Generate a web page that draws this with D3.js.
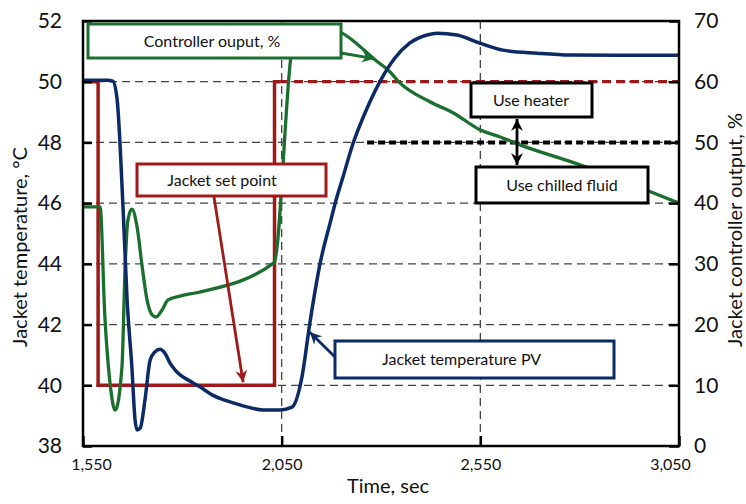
<!DOCTYPE html>
<html><head><meta charset="utf-8">
<script src="https://cdn.jsdelivr.net/npm/d3@7"></script>
<style>
html,body{margin:0;padding:0;background:#fff;}
text{font-family:Lato,"Noto Sans",sans-serif;fill:#111;}
</style></head>
<body><svg id="c" width="746" height="504"></svg>
<script>
// ---- data ----
const xTicks = [1550, 2050, 2550, 3050];
const tempTicks = [38, 40, 42, 44, 46, 48, 50, 52];
const pctTicks = [0, 10, 20, 30, 40, 50, 60, 70];

const pvTime = [1550,1612,1625,1636,1651,1661,1673,1681,1686,1694,1706,1719,1731,1744,1756,1769,1782,1827,1845,1880,1928,1965,2003,2046,2076,2101,2121,2147,2172,2189,2202,2230,2263,2298,2335,2372,2416,2441,2491,2549,2607,2693,2776,2900,3050];
const pvTemp = [50.05,50.05,50.02,49.4,45.77,42.81,40.6,38.86,38.53,38.59,39.52,40.83,41.1,41.19,41.06,40.73,40.5,40.08,39.94,39.65,39.42,39.28,39.19,39.19,39.28,40.27,42.05,44.03,45.35,46.2,46.76,47.98,49.07,50.02,50.78,51.27,51.54,51.6,51.54,51.27,51.04,50.94,50.88,50.87,50.87];

const coTime = [1550,1593,1605,1618,1631,1648,1656,1663,1673,1686,1699,1711,1724,1734,1749,1764,1794,1832,2031,2074,2084,2146,2202,2242,2285,2323,2343,2423,2481,2549,2600,2650,2801,2927,3050];
const coPct = [39.4,39.4,21.3,10.4,5.9,13.0,29.5,37.2,39.0,36.1,29.5,24.1,21.6,21.25,22.4,24.05,24.7,25.2,30.2,64.5,68.0,68.9,68.0,66.1,63.6,61.6,60.1,56.7,54.9,52.1,50.9,49.6,46.3,43.2,40.0];

const spTime = [1550,1588,1588,2032,2032,2046];
const spTemp = [50,50,40,40,50,50];
const spFutureTime = [2046, 3050];
const spFutureTemp = [50, 50];
const switchTime = [2265, 3050];
const switchPct = [50, 50];

// ---- colours ----
const BLUE = "#0c2b66", GREEN = "#1a6e2e", RED = "#9e1a1a";

const svg = d3.select("#c");
const L = 83, R = 679, T = 21, B = 446;
const x = d3.scaleLinear([1550, 3050], [L, R]);
const yT = d3.scaleLinear([38, 52], [B, T]);
const yP = d3.scaleLinear([0, 70], [B, T]);

const defs = svg.append("defs");
function marker(id, color) {
  defs.append("marker").attr("id", id).attr("viewBox", "-12 -6 13 12")
    .attr("refX", 0).attr("refY", 0).attr("markerWidth", 13).attr("markerHeight", 12)
    .attr("markerUnits", "userSpaceOnUse").attr("orient", "auto")
    .append("path").attr("d", "M0,0 L-12,-6 L-8,0 L-12,6 Z").attr("fill", color);
}
marker("mRed", RED); marker("mBlue", BLUE); marker("mGreen", GREEN); marker("mBlack", "#000");

// gridlines
const gridT = [40, 42, 44, 46, 48, 50];
svg.append("g").selectAll("line").data(gridT).join("line")
  .attr("x1", L).attr("x2", R).attr("y1", d => yT(d)).attr("y2", d => yT(d))
  .attr("stroke", "#444").attr("stroke-width", 1.3).attr("stroke-dasharray", "8,5");
svg.append("g").selectAll("line").data([2050, 2550]).join("line")
  .attr("x1", d => x(d)).attr("x2", d => x(d)).attr("y1", T).attr("y2", B)
  .attr("stroke", "#444").attr("stroke-width", 1.3).attr("stroke-dasharray", "8,5");

// heater / chilled switching line (50 %)
svg.append("path").datum(switchTime.map((t, i) => [t, switchPct[i]]))
  .attr("d", d3.line().x(d => x(d[0])).y(d => yP(d[1])))
  .attr("stroke", "#000").attr("stroke-width", 4).attr("stroke-dasharray", "7,4").attr("fill", "none");

// set point
svg.append("path").datum(spFutureTime.map((t, i) => [t, spFutureTemp[i]]))
  .attr("d", d3.line().x(d => x(d[0])).y(d => yT(d[1])))
  .attr("stroke", RED).attr("stroke-width", 3.2).attr("stroke-dasharray", "9,5").attr("fill", "none");
svg.append("path").datum(spTime.map((t, i) => [t, spTemp[i]]))
  .attr("d", d3.line().x(d => x(d[0])).y(d => yT(d[1])))
  .attr("stroke", RED).attr("stroke-width", 3.5).attr("fill", "none");

// controller output
svg.append("path").datum(coTime.map((t, i) => [t, coPct[i]]))
  .attr("d", d3.line().curve(d3.curveMonotoneX).x(d => x(d[0])).y(d => yP(d[1])))
  .attr("stroke", GREEN).attr("stroke-width", 3.3).attr("fill", "none");

// PV
svg.append("path").datum(pvTime.map((t, i) => [t, pvTemp[i]]))
  .attr("d", d3.line().curve(d3.curveMonotoneX).x(d => x(d[0])).y(d => yT(d[1])))
  .attr("stroke", BLUE).attr("stroke-width", 3.5).attr("fill", "none");

// axes
const gl = svg.append("g").attr("transform", `translate(${L},0)`)
  .call(d3.axisLeft(yT).tickValues(tempTicks).tickSize(-9).tickPadding(21));
const gr = svg.append("g").attr("transform", `translate(${R},0)`)
  .call(d3.axisRight(yP).tickValues(pctTicks).tickSize(-10).tickPadding(15));
const gb = svg.append("g").attr("transform", `translate(0,${B})`)
  .call(d3.axisBottom(x).tickValues(xTicks).tickFormat(d3.format(",")).tickSize(-10).tickPadding(13));
[gl, gr, gb].forEach(g => {
  g.select(".domain").remove();
  g.selectAll(".tick line").attr("stroke", "#000").attr("stroke-width", 2.5);
});
gl.selectAll("text").attr("font-size", 21).attr("fill", "#111");
gr.selectAll("text").attr("font-size", 21).attr("fill", "#111");
gb.selectAll("text").attr("font-size", 16).attr("fill", "#111")
  .attr("dx", (d, i) => i === 0 ? 8 : (i === xTicks.length - 1 ? -9 : 0));

// frame
svg.append("rect").attr("x", L).attr("y", T).attr("width", R - L).attr("height", B - T)
  .attr("fill", "none").attr("stroke", "#000").attr("stroke-width", 2.5);

// axis titles
svg.append("text").attr("transform", "translate(27,247) rotate(-90)").attr("text-anchor", "middle")
  .attr("font-size", 20).text("Jacket temperature, °C");
svg.append("text").attr("transform", "translate(742,230) rotate(-90)").attr("text-anchor", "middle")
  .attr("font-size", 20).text("Jacket controller output, %");
svg.append("text").attr("x", 388).attr("y", 493).attr("text-anchor", "middle")
  .attr("font-size", 20).text("Time, sec");

// annotations
function box(x0, y0, w, h, color, label, tx, anchor) {
  svg.append("rect").attr("x", x0).attr("y", y0).attr("width", w).attr("height", h)
    .attr("fill", "#fff").attr("stroke", color).attr("stroke-width", 3);
  svg.append("text").attr("x", tx).attr("y", y0 + h / 2 + 5.5).attr("text-anchor", anchor || "middle")
    .attr("font-size", 16).text(label);
}
function arrow(x1, y1, x2, y2, color, m) {
  svg.append("line").attr("x1", x1).attr("y1", y1).attr("x2", x2).attr("y2", y2)
    .attr("stroke", color).attr("stroke-width", 2.8).attr("marker-end", `url(#${m})`);
}
box(88, 24, 253, 34, GREEN, "Controller ouput, %", 212);
arrow(341, 53, x(2282), yP(63.8), GREEN, "mGreen");

box(137, 164, 189, 32, RED, "Jacket set point", 222);
arrow(214, 197, x(1953), yT(40.1), RED, "mRed");

box(335, 341, 279, 37, BLUE, "Jacket temperature PV", 382, "start");
arrow(335, 357, x(2121), yT(41.75), BLUE, "mBlue");

box(471, 83, 121, 34, "#000", "Use heater", 531);
box(476, 167, 172, 36, "#000", "Use chilled fluid", 562);
arrow(517, 142, 517, 119, "#000", "mBlack");
arrow(517, 142, 517, 165, "#000", "mBlack");
</script></body></html>
